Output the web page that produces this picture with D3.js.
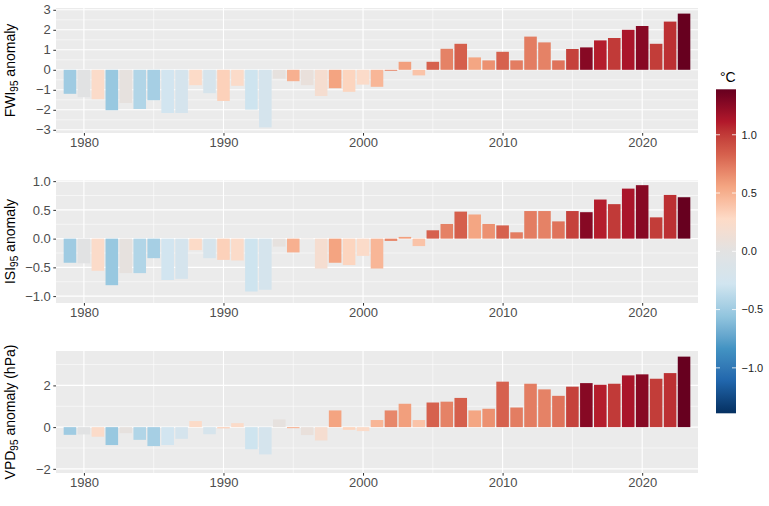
<!DOCTYPE html>
<html>
<head>
<meta charset="utf-8">
<script src="https://cdn.jsdelivr.net/npm/d3@7"></script>
<style>
  body { margin: 0; background: #fff; }
  svg { font-family: "Liberation Sans", Arial, sans-serif; }
</style>
</head>
<body>
<div class="chart"></div>
<script>
// years and values
var years = d3.range(1979, 2024);

// temperature anomaly (°C) used for bar colour
var tempAnom = [-0.50, -0.02, 0.26, -0.53, 0.04, -0.42, -0.47, -0.27, -0.22, 0.27,
  -0.20, 0.33, 0.26, -0.29, -0.21, 0.04, 0.50, 0.07, 0.19, 0.56,
  0.31, 0.26, 0.47, 0.68, 0.58, 0.40, 0.83, 0.70, 0.84, 0.55,
  0.64, 0.83, 0.72, 0.72, 0.70, 0.76, 0.97, 1.27, 1.10, 1.00,
  1.14, 1.27, 0.99, 1.04, 1.39];

var fwiAnom = [-1.20, -1.37, -1.47, -2.02, -1.66, -1.96, -1.52, -2.16, -2.16, -0.77,
  -1.17, -1.56, -0.80, -1.99, -2.88, -0.44, -0.57, -0.77, -1.31, -0.92,
  -1.10, -0.74, -0.85, -0.05, 0.40, -0.28, 0.40, 1.05, 1.30, 0.62,
  0.47, 0.90, 0.47, 1.66, 1.37, 0.47, 1.04, 1.12, 1.47, 1.59,
  2.00, 2.19, 1.30, 2.41, 2.81];

var isiAnom = [-0.42, -0.43, -0.56, -0.81, -0.60, -0.60, -0.34, -0.72, -0.70, -0.20,
  -0.34, -0.37, -0.38, -0.92, -0.89, -0.14, -0.24, -0.01, -0.52, -0.42,
  -0.46, -0.30, -0.52, -0.04, 0.03, -0.13, 0.145, 0.255, 0.47, 0.42,
  0.255, 0.23, 0.11, 0.48, 0.48, 0.30, 0.48, 0.46, 0.68, 0.60,
  0.87, 0.93, 0.37, 0.76, 0.72];

var vpdAnom = [-0.37, -0.35, -0.46, -0.86, -0.29, -0.61, -0.91, -0.86, -0.56, 0.29,
  -0.34, -0.06, 0.19, -1.06, -1.31, 0.37, -0.05, -0.38, -0.64, 0.80,
  -0.13, -0.19, 0.34, 0.80, 1.12, 0.34, 1.18, 1.22, 1.40, 0.80,
  0.88, 2.18, 0.94, 2.08, 1.81, 1.50, 1.94, 2.11, 2.03, 2.08,
  2.48, 2.53, 2.32, 2.59, 3.38];

// tick labels
var yearTicks = [1980, 1990, 2000, 2010, 2020];
var yearMinor = [1985, 1995, 2005, 2015];
var fwiTicks = [-3, -2, -1, 0, 1, 2, 3];
var isiTicks = [-1.0, -0.5, 0.0, 0.5, 1.0];
var vpdTicks = [-2, 0, 2];
var legendTicks = [-1.0, -0.5, 0.0, 0.5, 1.0];

// RdBu (11 class), reversed so warm is red, with a grey centre
var rdbu = ["#053061", "#2166ac", "#4393c3", "#92c5de", "#d1e5f0", "#e2e2e2",
  "#fddbc7", "#f4a582", "#d6604d", "#b2182b", "#67001f"];
var tLim = 1.39;

var svgWidth = 769, svgHeight = 506;
var svg = d3.select(".chart").append("svg")
  .attr("width", svgWidth)
  .attr("height", svgHeight);

var colorScale = d3.scaleLinear()
  .domain(d3.range(11).map(i => -tLim + i * (2 * tLim / 10)))
  .range(rdbu)
  .interpolate(d3.interpolateLab);

var x = d3.scaleLinear().domain([1978, 2024]).range([56, 698]);
var barW = (x(1) - x(0)) * 0.9;

var panels = [
  { values: fwiAnom, top: 8, bottom: 133, domain: [-3.16, 3.09], ticks: fwiTicks, fmt: d3.format("d"),
    main: "FWI", rest: " anomaly" },
  { values: isiAnom, top: 180, bottom: 303, domain: [-1.12, 1.02], ticks: isiTicks, fmt: d3.format(".1f"),
    main: "ISI", rest: " anomaly" },
  { values: vpdAnom, top: 351, bottom: 473, domain: [-2.2, 3.65], ticks: vpdTicks, fmt: d3.format("d"),
    main: "VPD", rest: " anomaly (hPa)" }
];

panels.forEach(function (p) {
  var y = d3.scaleLinear().domain(p.domain).range([p.bottom, p.top]);
  var g = svg.append("g");

  // panel background
  g.append("rect")
    .attr("x", x.range()[0]).attr("y", p.top)
    .attr("width", x.range()[1] - x.range()[0])
    .attr("height", p.bottom - p.top)
    .attr("fill", "#ebebeb");

  // minor grid (half way between major ticks)
  var step = p.ticks[1] - p.ticks[0];
  var yMinor = d3.range(p.ticks[0] - step / 2, p.ticks[p.ticks.length - 1] + step, step)
    .filter(v => v > p.domain[0] && v < p.domain[1]);
  g.selectAll(".ymin").data(yMinor).enter().append("line")
    .attr("x1", x.range()[0]).attr("x2", x.range()[1])
    .attr("y1", d => y(d)).attr("y2", d => y(d))
    .attr("stroke", "#fff").attr("stroke-width", 0.55);
  g.selectAll(".xmin").data(yearMinor).enter().append("line")
    .attr("x1", d => x(d)).attr("x2", d => x(d))
    .attr("y1", p.top).attr("y2", p.bottom)
    .attr("stroke", "#fff").attr("stroke-width", 0.55);

  // major grid
  g.selectAll(".ymaj").data(p.ticks).enter().append("line")
    .attr("x1", x.range()[0]).attr("x2", x.range()[1])
    .attr("y1", d => y(d)).attr("y2", d => y(d))
    .attr("stroke", "#fff").attr("stroke-width", 1.1);
  g.selectAll(".xmaj").data(yearTicks).enter().append("line")
    .attr("x1", d => x(d)).attr("x2", d => x(d))
    .attr("y1", p.top).attr("y2", p.bottom)
    .attr("stroke", "#fff").attr("stroke-width", 1.1);

  // bars
  g.selectAll(".bar").data(years).enter().append("rect")
    .attr("x", d => x(d) - barW / 2)
    .attr("width", barW)
    .attr("y", (d, i) => y(Math.max(0, p.values[i])))
    .attr("height", (d, i) => Math.abs(y(p.values[i]) - y(0)))
    .attr("fill", (d, i) => colorScale(tempAnom[i]));

  // axes
  var yAxis = g.append("g")
    .attr("transform", `translate(${x.range()[0]},0)`)
    .call(d3.axisLeft(y).tickValues(p.ticks).tickFormat(p.fmt).tickSize(2.7).tickPadding(2.5));
  var xAxis = g.append("g")
    .attr("transform", `translate(0,${p.bottom})`)
    .call(d3.axisBottom(x).tickValues(yearTicks).tickFormat(d3.format("d")).tickSize(2.7).tickPadding(2.5));
  [yAxis, xAxis].forEach(function (a) {
    a.select(".domain").remove();
    a.selectAll(".tick line").attr("stroke", "#333").attr("stroke-width", 1);
    a.selectAll(".tick text").attr("fill", "#4d4d4d")
      .style("font-size", "13px").style("font-family", "'Liberation Sans', Arial, sans-serif");
  });

  // axis title with subscript
  var t = g.append("text")
    .attr("transform", `translate(14.5,${(p.top + p.bottom) / 2}) rotate(-90)`)
    .attr("text-anchor", "middle")
    .attr("fill", "#000")
    .style("font-size", "14px");
  t.append("tspan").text(p.main);
  t.append("tspan").attr("dy", 3).style("font-size", "10px").text("95");
  t.append("tspan").attr("dy", -3).text(p.rest);
});

// colour bar legend
var legTop = 89.3, legBottom = 413.3, legX = 716, legW = 20;
var ly = d3.scaleLinear().domain([-tLim, tLim]).range([legBottom, legTop]);

var grad = svg.append("defs").append("linearGradient")
  .attr("id", "tgrad")
  .attr("x1", 0).attr("x2", 0).attr("y1", 1).attr("y2", 0);
grad.selectAll("stop").data(d3.range(0, 1.0001, 0.02)).enter().append("stop")
  .attr("offset", d => d)
  .attr("stop-color", d => colorScale(-tLim + d * 2 * tLim));

svg.append("rect")
  .attr("x", legX).attr("y", legTop)
  .attr("width", legW).attr("height", legBottom - legTop)
  .attr("fill", "url(#tgrad)");

var lt = svg.append("g").selectAll("g").data(legendTicks).enter().append("g");
lt.append("line")
  .attr("x1", legX).attr("x2", legX + 4)
  .attr("y1", d => ly(d)).attr("y2", d => ly(d))
  .attr("stroke", "#fff").attr("stroke-opacity", 0.8);
lt.append("line")
  .attr("x1", legX + legW - 4).attr("x2", legX + legW)
  .attr("y1", d => ly(d)).attr("y2", d => ly(d))
  .attr("stroke", "#fff").attr("stroke-opacity", 0.8);
lt.append("text")
  .attr("x", legX + legW + 5.5)
  .attr("y", d => ly(d))
  .attr("dy", "0.35em")
  .attr("fill", "#222")
  .style("font-size", "11px")
  .text(d => d3.format(".1f")(d));

svg.append("text")
  .attr("x", 720).attr("y", 82)
  .attr("fill", "#000")
  .style("font-size", "14px")
  .text("°C");
</script>
</body>
</html>
